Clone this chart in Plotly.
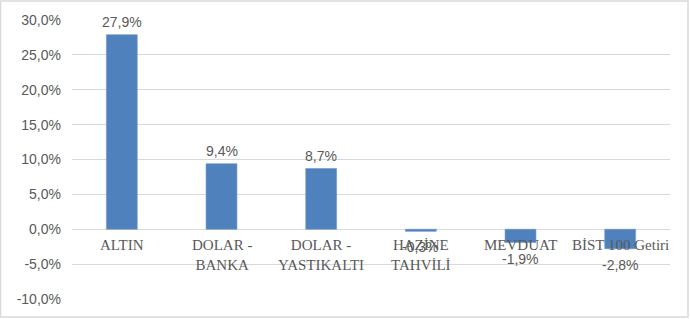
import plotly.graph_objects as go

categories = ["ALTIN", "DOLAR -<br>BANKA", "DOLAR -<br>YASTIKALTI", "HAZİNE<br>TAHVİLİ", "MEVDUAT", "BİST 100 Getiri"]
values = [27.9, 9.4, 8.7, -0.3, -1.9, -2.8]
tick_vals = [-10, -5, 0, 5, 10, 15, 20, 25, 30]
tick_text = [("%.1f%%" % t).replace(".", ",") for t in tick_vals]

x_idx = list(range(len(categories)))

fig = go.Figure()
fig.add_trace(go.Bar(
    x=x_idx, y=values, width=0.31,
    marker=dict(color="#4F81BD", line=dict(color="#6f97cc", width=0.6)),
    hoverinfo="skip",
))

annotations = []
for i, (c, v) in enumerate(zip(categories, values)):
    annotations.append(dict(
        x=i, y=0, xref="x", yref="y", text=c, showarrow=False,
        yanchor="top", yshift=-6,
        font=dict(family="Liberation Serif", size=15, color="#595959"),
    ))
    txt = ("%.1f%%" % v).replace(".", ",")
    annotations.append(dict(
        x=i, y=v, xref="x", yref="y", text=txt, showarrow=False,
        yanchor="bottom" if v >= 0 else "top",
        yshift=3 if v >= 0 else -6,
        font=dict(family="Liberation Sans", size=14, color="#595959"),
    ))

fig.update_layout(
    width=690, height=319,
    margin=dict(l=72, r=20, t=20, b=20),
    paper_bgcolor="white", plot_bgcolor="white",
    showlegend=False,
    annotations=annotations,
    xaxis=dict(range=[-0.5, 5.5], showticklabels=False, showgrid=False, zeroline=False, fixedrange=True),
    yaxis=dict(range=[-10, 30], tickmode="array", tickvals=tick_vals, ticktext=tick_text,
               showgrid=True, gridcolor="#d9d9d9", gridwidth=1,
               zeroline=True, zerolinecolor="#d9d9d9", zerolinewidth=1,
               tickfont=dict(family="Liberation Sans", size=14, color="#595959"),
               ticklabelstandoff=10),
    shapes=[dict(type="rect", xref="paper", yref="paper",
                 x0=-71.5/598, x1=(688-72)/598, y0=-18/279, y1=1+19/279,
                 line=dict(color="#d9d9d9", width=1.5), fillcolor="rgba(0,0,0,0)", layer="below")],
)

fig.write_html("out.html")
